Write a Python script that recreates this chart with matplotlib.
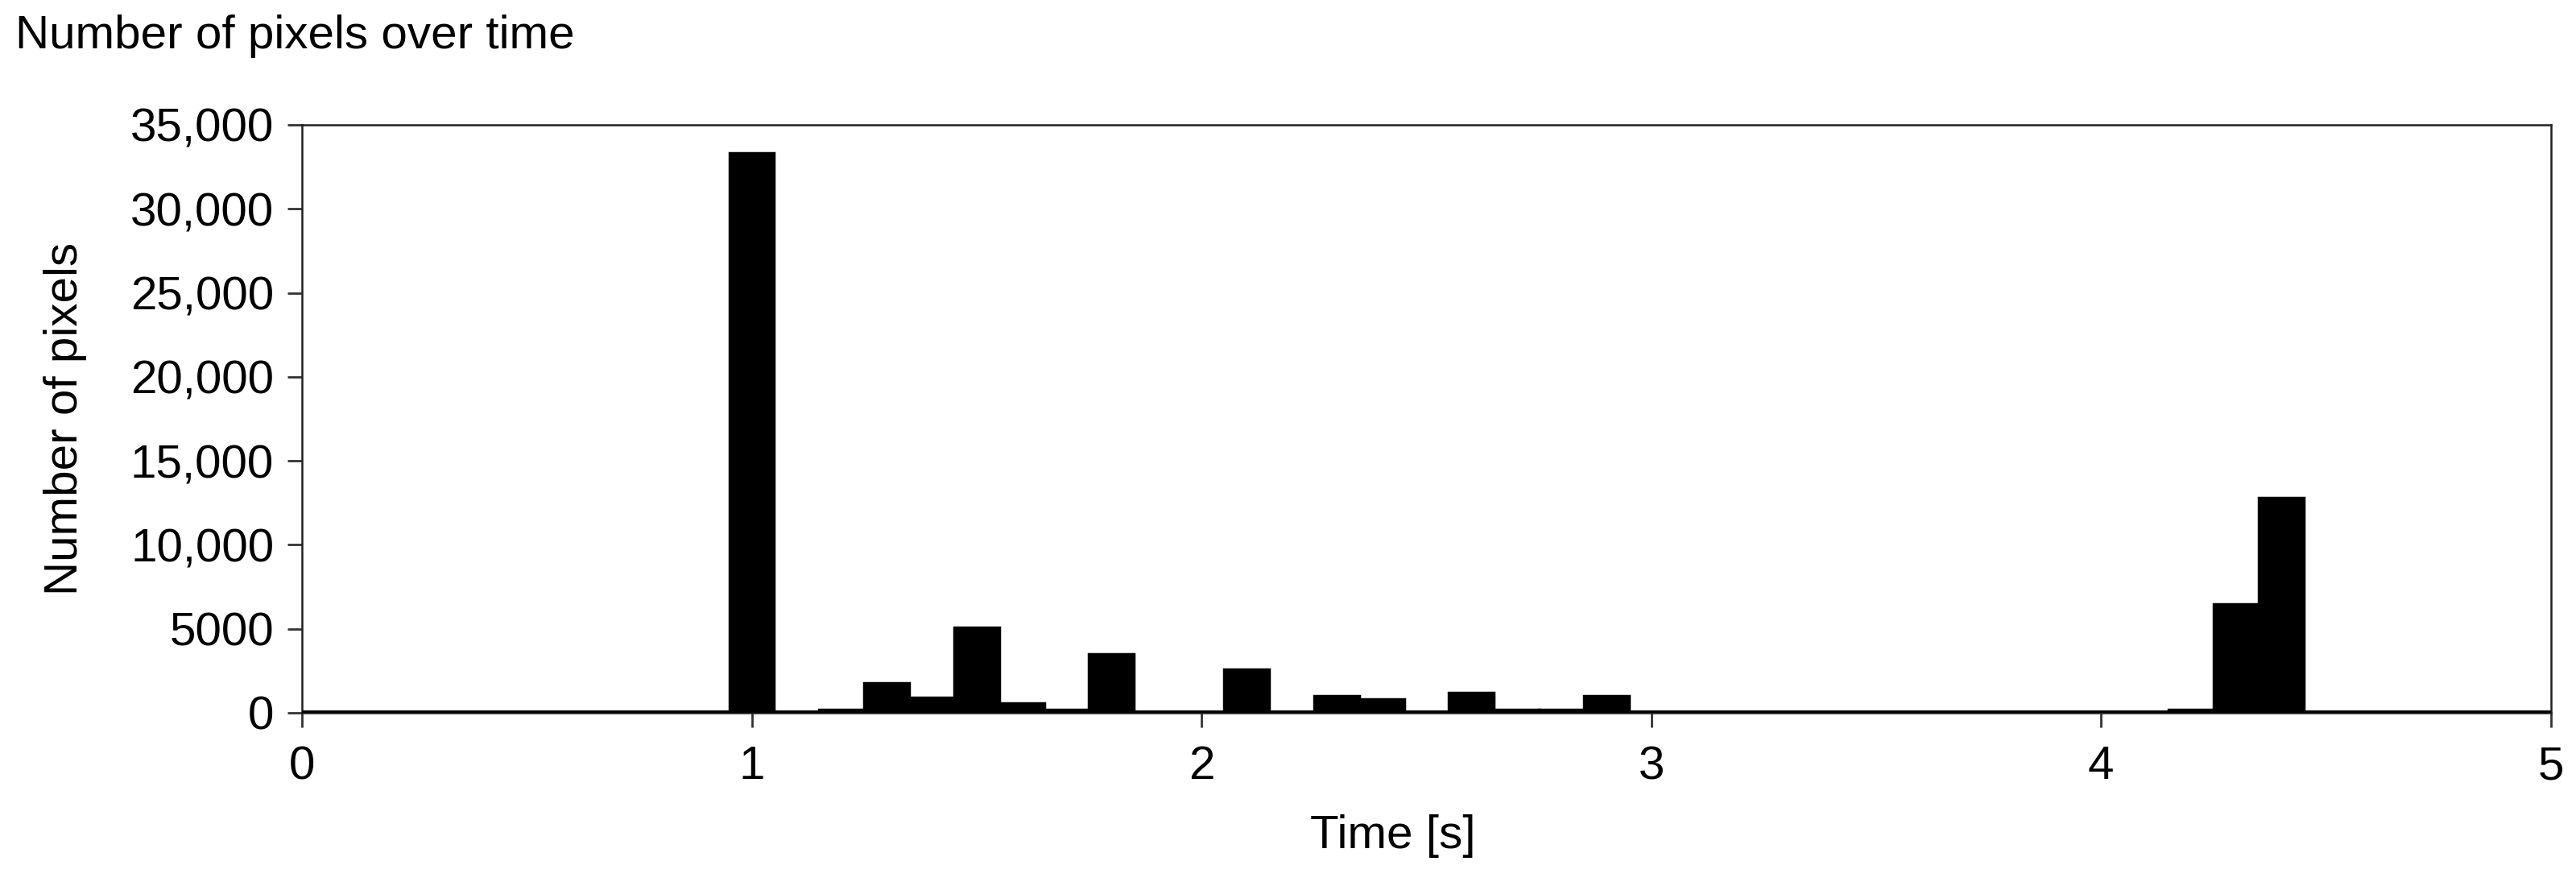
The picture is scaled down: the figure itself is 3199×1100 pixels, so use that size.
import numpy as np
from matplotlib import pyplot as plt

# histogram bins (centre of each 0.1 s bin) and pixel counts per bin
time_bins = [0.0, 0.1, 0.2, 0.3, 0.4, 0.5, 0.6, 0.7, 0.8, 0.9,
             1.0, 1.1, 1.2, 1.3, 1.4, 1.5, 1.6, 1.7, 1.8, 1.9,
             2.0, 2.1, 2.2, 2.3, 2.4, 2.5, 2.6, 2.7, 2.8, 2.9,
             3.0, 3.1, 3.2, 3.3, 3.4, 3.5, 3.6, 3.7, 3.8, 3.9,
             4.0, 4.1, 4.2, 4.3, 4.4, 4.5, 4.6, 4.7, 4.8, 4.9, 5.0]
pixel_counts = [0, 0, 0, 0, 0, 0, 0, 0, 0, 0,
                33300, 0, 200, 1750, 900, 5100, 550, 200, 3500, 0,
                0, 2600, 0, 1000, 830, 0, 1200, 200, 200, 1000,
                0, 0, 0, 0, 0, 0, 0, 0, 0, 0,
                0, 0, 200, 6450, 12800, 0, 0, 0, 0, 0, 0]

y_ticks = [0, 5000, 10000, 15000, 20000, 25000, 30000, 35000]
y_tick_labels = ['0', '5000', '10,000', '15,000', '20,000', '25,000', '30,000', '35,000']
x_ticks = [0, 1, 2, 3, 4, 5]

plt.rcParams['font.family'] = ['Liberation Sans', 'DejaVu Sans']
plt.rcParams['font.size'] = 42

fig = plt.figure(figsize=(31.99, 11), dpi=100)
ax = fig.add_axes([0.1172, 0.1955, 0.8731, 0.6636])

ax.bar(time_bins, pixel_counts, width=0.1, color='black',
       edgecolor='black', linewidth=2.5, zorder=3)
# thick zero line of the histogram outline
ax.axhline(0, color='black', linewidth=5, zorder=4)

ax.set_xlim(0, 5)
ax.set_ylim(0, 35000)
ax.set_xticks(x_ticks)
ax.set_xticklabels([str(t) for t in x_ticks])
ax.set_yticks(y_ticks)
ax.set_yticklabels(y_tick_labels)

for side in ['left', 'right', 'top', 'bottom']:
    ax.spines[side].set_linewidth(1.8)
    ax.spines[side].set_color('#222222')

ax.tick_params(axis='both', direction='out', length=13, width=2,
               color='#333333', labelsize=42)
ax.tick_params(axis='x', pad=16)
ax.tick_params(axis='y', pad=12)

ax.set_xlabel('Time [s]', fontsize=42)
ax.xaxis.set_label_coords(0.485, -0.172)
ax.set_ylabel('Number of pixels', fontsize=42)
ax.yaxis.set_label_coords(-0.0956, 0.5)

fig.text(0.006, 0.959, 'Number of pixels over time', fontsize=42,
         ha='left', va='center')

plt.savefig('out.png', dpi=100, facecolor='white')
plt.close()
